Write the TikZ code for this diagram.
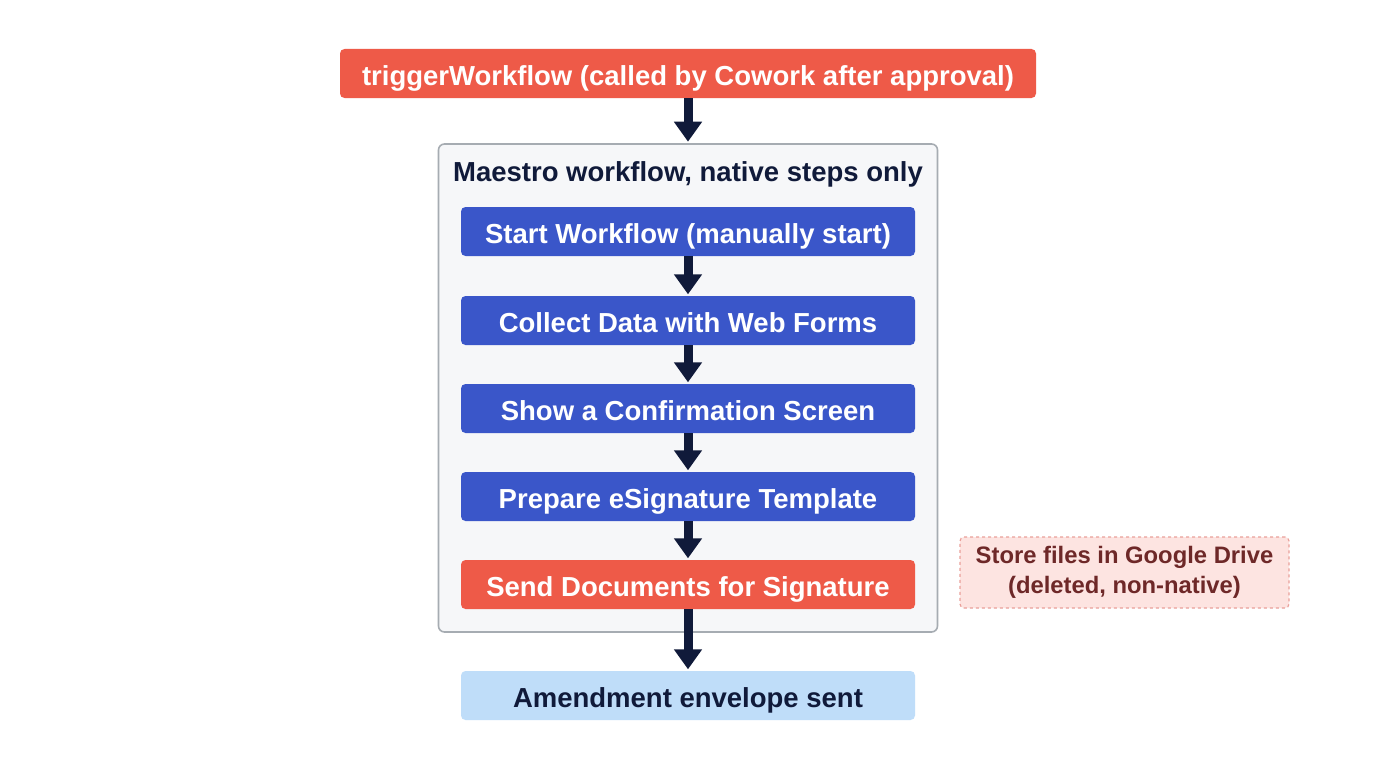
\documentclass[tikz,border=0pt]{standalone}
\usepackage{fontspec}
\setmainfont{Liberation Sans}
\usepackage{xcolor}
\usepackage{tikz}
\usetikzlibrary{arrows.meta,positioning}
\definecolor{trigred}{RGB}{238,90,72}
\definecolor{stepblue}{RGB}{58,86,201}
\definecolor{navy}{RGB}{16,26,58}
\definecolor{framefill}{RGB}{246,247,249}
\definecolor{framedraw}{RGB}{166,172,178}
\definecolor{donefill}{RGB}{191,221,249}
\definecolor{notefill}{RGB}{253,228,225}
\definecolor{notedraw}{RGB}{234,160,154}
\definecolor{notetext}{RGB}{110,40,40}
\tikzset{
  stepbox/.style={rectangle,rounded corners=4.5pt,fill=stepblue,text=white,
    font=\fontsize{27.5}{30}\selectfont\bfseries,minimum width=454pt,
    minimum height=49pt,inner sep=0pt,text height=26pt,text depth=3pt},
  redbox/.style={stepbox,fill=trigred},
  donebox/.style={stepbox,fill=donefill,text=navy},
  frame/.style={rectangle,rounded corners=6pt,fill=framefill,draw=framedraw,
    line width=1.6pt,minimum width=499pt,minimum height=488pt,inner sep=0pt},
  note/.style={rectangle,rounded corners=4pt,fill=notefill,draw=notedraw,
    dashed,line width=1.2pt,text=notetext,align=center,
    font=\fontsize{23.8}{30}\selectfont\bfseries,minimum width=329pt,
    minimum height=71pt,inner sep=0pt},
  flow/.style={-{Triangle[width=27pt,length=20pt]},line width=9pt,navy,
    shorten >=1.5pt}
}
\begin{document}
\begin{tikzpicture}[x=1pt,y=-1pt]
  \useasboundingbox[fill=white] (0,0) rectangle (1376,768);
  \node[redbox,minimum width=696pt] (trig) at (688,73.5)
    {triggerWorkflow (called by Cowork after approval)};
  \node[frame] (wf) at (688,388) {};
  \node[text=navy,font=\fontsize{27.5}{30}\selectfont\bfseries,inner sep=0pt,
    text height=26pt,text depth=3pt] (title) at (688,169.5)
    {Maestro workflow, native steps only};
  \node[stepbox] (start) at (688,231.5) {Start Workflow (manually start)};
  \node[stepbox] (collect) at (688,320.5) {Collect Data with Web Forms};
  \node[stepbox] (show) at (688,408.5) {Show a Confirmation Screen};
  \node[stepbox] (prep) at (688,496.5) {Prepare eSignature Template};
  \node[redbox] (send) at (688,584.5) {Send Documents for Signature};
  \node[donebox] (done) at (688,695.5) {Amendment envelope sent};
  \node[note] (drive) at (1124.5,572.5)
    {Store files in Google Drive\\(deleted, non-native)};
  \draw[flow] (trig) -- (wf);
  \foreach \a/\b in {start/collect,collect/show,show/prep,prep/send,send/done}
    \draw[flow] (\a) -- (\b);
\end{tikzpicture}
\end{document}
